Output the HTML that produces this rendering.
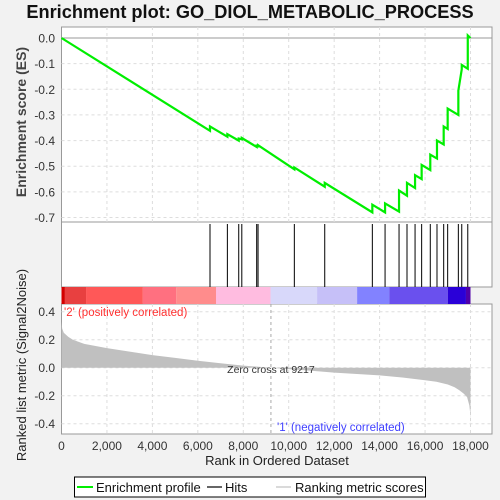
<!DOCTYPE html>
<html><head><meta charset="utf-8"><style>
body{margin:0;background:#f2f2f2;}
svg{display:block;font-family:"Liberation Sans",sans-serif;}
</style></head><body>
<svg id="c" width="500" height="500" viewBox="0 0 500 500">
<rect width="500" height="500" fill="#f2f2f2"/>
<text x="250" y="18" text-anchor="middle" font-size="18.2" font-weight="bold" fill="#111">Enrichment plot: GO_DIOL_METABOLIC_PROCESS</text>
<g id="g"></g>
</svg>
<script>
const hitRanks=[6535,7300,7800,7935,8590,8650,10247,11585,13680,14240,14855,15205,15560,15850,16230,16525,16820,16995,17465,17615,17880];
const esBefore=[-0.362,-0.385,-0.400,-0.395,-0.425,-0.422,-0.512,-0.580,-0.680,-0.680,-0.677,-0.615,-0.585,-0.550,-0.515,-0.470,-0.415,-0.355,-0.300,-0.122,-0.120];
const esAfter=[-0.345,-0.375,-0.392,-0.390,-0.420,-0.418,-0.505,-0.565,-0.650,-0.645,-0.595,-0.565,-0.535,-0.495,-0.455,-0.400,-0.345,-0.275,-0.205,-0.105,0.010];
const esTicks=[0.0,-0.1,-0.2,-0.3,-0.4,-0.5,-0.6,-0.7];
const metricRanks=[0,30,100,300,500,1000,2000,3000,4000,5000,6000,7000,8000,9217,10000,11000,12000,13000,14000,15000,16000,16500,17000,17300,17500,17700,17850,17950,17990,18000];
const metricVals=[0.33,0.28,0.25,0.22,0.20,0.17,0.14,0.115,0.09,0.07,0.05,0.032,0.015,0,-0.01,-0.022,-0.035,-0.045,-0.055,-0.07,-0.09,-0.10,-0.12,-0.14,-0.16,-0.185,-0.21,-0.27,-0.33,-0.43];
const metricTicks=[0.4,0.2,0.0,-0.2,-0.4];
const rankTicks=[0,2000,4000,6000,8000,10000,12000,14000,16000,18000];
const barEdges=[0,150,1080,3580,5050,6800,9200,11250,13010,14430,17000,17800,18000];
const barColors=["#d40000","#e84040","#ff5858","#ff7080","#ff8c8c","#ffbce0","#d8d8fa","#c6c0f8","#8282ff","#6a50ee","#2a00d8","#5000a8"];
const NS="http://www.w3.org/2000/svg";
const g=document.getElementById('g');
const L=61.5,R=492,X0=61.5,X1=470.5;
const x=r=>X0+(r/18000)*(X1-X0);
const yE=v=>38+(-v/0.7)*(217.5-38);
const yM=v=>367.7-(v/0.4)*(367.7-311.7);
function el(t,a,p){const e=document.createElementNS(NS,t);for(const k in a)e.setAttribute(k,a[k]);(p||g).appendChild(e);return e;}
let p1=el('rect',{x:L,y:27,width:R-L,height:195,fill:'#fff',stroke:'#999'});

let p2=el('rect',{x:L,y:222,width:R-L,height:65,fill:'#fff',stroke:'#999'});

let p3=el('rect',{x:L,y:304,width:R-L,height:130,fill:'#fff',stroke:'#999'});

rankTicks.forEach(r=>{if(r===0)return;
 let a=el('line',{x1:x(r),x2:x(r),y1:27,y2:222,stroke:'#ddd','stroke-dasharray':'3,3'});
 let b=el('line',{x1:x(r),x2:x(r),y1:304,y2:434,stroke:'#ddd','stroke-dasharray':'3,3'});});
esTicks.forEach(v=>{let a=el('line',{x1:L,x2:R,y1:yE(v),y2:yE(v),stroke:v===0?'#999':'#ddd','stroke-dasharray':v===0?'':'3,3'});
 let t=el('text',{x:55,y:yE(v)+4.5,'text-anchor':'end','font-size':12,fill:'#333'});t.textContent=v.toFixed(1);});
metricTicks.forEach(v=>{let a=el('line',{x1:L,x2:R,y1:yM(v),y2:yM(v),stroke:'#ddd','stroke-dasharray':'3,3'});
 let t=el('text',{x:55,y:yM(v)+4.5,'text-anchor':'end','font-size':12,fill:'#333'});t.textContent=v.toFixed(1);});
barColors.forEach((c,i)=>{let r=el('rect',{x:x(barEdges[i]),y:287,width:x(barEdges[i+1])-x(barEdges[i]),height:17,fill:c});});
hitRanks.forEach(r=>{let l=el('line',{x1:x(r),x2:x(r),y1:224,y2:287,stroke:'#000','stroke-width':1});});
let pts=[[x(0),yM(0)]];metricRanks.forEach((r,i)=>pts.push([x(r),yM(metricVals[i])]));pts.push([x(18000),yM(0)]);
let ar=el('polygon',{points:pts.map(p=>p.join(',')).join(' '),fill:'#c0c0c0'});
let zc=el('line',{x1:x(9217),x2:x(9217),y1:304,y2:434,stroke:'#aaa','stroke-dasharray':'3,3'});
let zt=el('text',{x:x(9217),y:373,'text-anchor':'middle','font-size':10.5,fill:'#333'});zt.textContent='Zero cross at 9217';
let pl=el('text',{x:64,y:316,'font-size':11.5,fill:'#ff3030'});pl.textContent="'2' (positively correlated)";
let nl=el('text',{x:277,y:431,'font-size':11.5,fill:'#4040ff'});nl.textContent="'1' (negatively correlated)";
let d='M'+x(0)+','+yE(0);
hitRanks.forEach((r,i)=>{d+=' L'+x(r)+','+yE(esBefore[i])+' L'+x(r)+','+yE(esAfter[i]);});
d+=' L'+x(18000)+','+yE(0);
let es=el('path',{d:d,fill:'none',stroke:'#00ee00','stroke-width':2.2});
rankTicks.forEach(r=>{let t=el('text',{x:x(r),y:450,'text-anchor':'middle','font-size':12,fill:'#333'});t.textContent=r.toLocaleString('en-US');});
let xt=el('text',{x:277,y:465,'text-anchor':'middle','font-size':13,fill:'#222'});xt.textContent='Rank in Ordered Dataset';
let y1=el('text',{x:0,y:0,'text-anchor':'middle','font-size':14,'font-weight':'bold',fill:'#444',transform:'translate(26,122) rotate(-90)'});y1.textContent='Enrichment score (ES)';
let y2=el('text',{x:0,y:0,'text-anchor':'middle','font-size':13,fill:'#222',transform:'translate(26,365) rotate(-90)'});y2.textContent='Ranked list metric (Signal2Noise)';
let lg=el('rect',{x:74.5,y:477,width:351,height:20,fill:'#fff',stroke:'#000'});
let l1=el('line',{x1:77,x2:93,y1:487,y2:487,stroke:'#00ee00','stroke-width':2});
let t1=el('text',{x:96,y:492,'font-size':13,fill:'#111'});t1.textContent='Enrichment profile';
let l2=el('line',{x1:207,x2:222,y1:487,y2:487,stroke:'#000','stroke-width':1.2});
let t2=el('text',{x:225,y:492,'font-size':13,fill:'#111'});t2.textContent='Hits';
let l3=el('line',{x1:276,x2:291,y1:487,y2:487,stroke:'#c0c0c0','stroke-width':1.2});
let t3=el('text',{x:295,y:492,'font-size':13,fill:'#111'});t3.textContent='Ranking metric scores';
</script>
</body></html>
